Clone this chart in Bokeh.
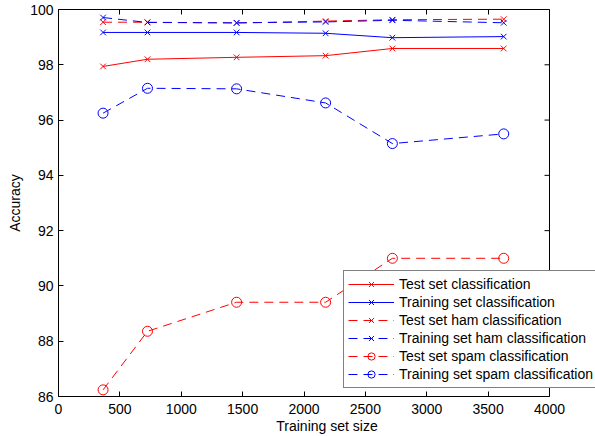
import numpy as np
from bokeh.plotting import figure
from bokeh.models import LinearAxis, FixedTicker, Legend, LegendItem, Span
from bokeh.embed import file_html
from bokeh.resources import INLINE

# ---- data ----
train_size = [363, 725, 1451, 2176, 2720, 3627]
test_cls = [97.94, 98.20, 98.27, 98.33, 98.59, 98.59]
train_cls = [99.17, 99.17, 99.17, 99.14, 98.98, 99.02]
test_ham = [99.54, 99.54, 99.51, 99.58, 99.63, 99.65]
train_ham = [99.71, 99.53, 99.52, 99.55, 99.61, 99.52]
test_spam = [86.24, 88.36, 89.41, 89.41, 91.00, 91.00]
train_spam = [96.25, 97.15, 97.13, 96.62, 95.15, 95.50]

x_ticks = [0, 500, 1000, 1500, 2000, 2500, 3000, 3500, 4000]
y_ticks = [86, 88, 90, 92, 94, 96, 98, 100]
X_MIN, X_MAX = 0, 4000
Y_MIN, Y_MAX = 86, 100

series = [
    ("Test set classification", test_cls, "#ff0000", "solid", "x"),
    ("Training set classification", train_cls, "#0000ff", "solid", "x"),
    ("Test set ham classification", test_ham, "#ff0000", "9 6", "x"),
    ("Training set ham classification", train_ham, "#0000ff", "9 6", "x"),
    ("Test set spam classification", test_spam, "#ff0000", "9 6", "circle"),
    ("Training set spam classification", train_spam, "#0000ff", "9 6", "circle"),
]

FONT = "Liberation Sans"
FS = "14px"

# layout: the frame runs past x=4000 so the legend may overhang the axes box,
# as in the reference; the box itself is drawn by bounded axes + a span.
W, H = 595, 436
LEFT = 58
AXES_PX = 491          # pixel width of the 0..4000 axes box
frame_w = W - LEFT
x_end = X_MAX * frame_w / AXES_PX

p = figure(width=W, height=H, x_range=(X_MIN, x_end), y_range=(Y_MIN, Y_MAX),
           output_backend="svg", toolbar_location=None,
           min_border_left=LEFT, min_border_right=0, min_border_top=9, min_border_bottom=0)

p.xgrid.visible = False
p.ygrid.visible = False
p.outline_line_color = None
p.background_fill_color = "white"
p.border_fill_color = "white"

def style(ax, ticks):
    ax.ticker = FixedTicker(ticks=ticks)
    ax.major_tick_in = 5
    ax.major_tick_out = 0
    ax.minor_tick_line_color = None
    ax.axis_line_color = "black"
    ax.major_tick_line_color = "black"
    ax.major_label_text_font = FONT
    ax.major_label_text_font_size = FS
    ax.major_label_text_color = "black"
    ax.axis_label_text_font = FONT
    ax.axis_label_text_font_size = FS
    ax.axis_label_text_font_style = "normal"
    ax.axis_label_text_color = "black"

style(p.xaxis[0], x_ticks)
style(p.yaxis[0], y_ticks)
p.xaxis.bounds = (X_MIN, X_MAX)
p.xaxis.axis_label = "Training set size"
p.yaxis.axis_label = "Accuracy"
p.xaxis.major_label_standoff = 7
p.xaxis.axis_label_standoff = 1
p.yaxis.major_label_standoff = 5
p.yaxis.axis_label_standoff = 4

top = LinearAxis()
style(top, x_ticks)
top.bounds = (X_MIN, X_MAX)
top.major_label_text_font_size = "0px"
top.major_label_standoff = 0
top.major_label_overrides = {t: "" for t in x_ticks}
p.add_layout(top, "above")

# right edge of the axes box with inward ticks
p.add_layout(Span(location=X_MAX, dimension="height", line_color="black", line_width=1))
p.ray(x=[X_MAX] * len(y_ticks), y=y_ticks, length=5, length_units="screen",
      angle=np.pi, line_color="black", line_width=1)

items = []
for label, ys, color, dash, marker in series:
    r_line = p.line(train_size, ys, line_color=color, line_width=1, line_dash=dash)
    if marker == "x":
        r_m = p.scatter(train_size, ys, marker="x", size=8, line_color=color, line_width=1)
    else:
        r_m = p.scatter(train_size, ys, marker="circle", size=10, line_color=color,
                        fill_color=None, line_width=1)
    items.append(LegendItem(label=label, renderers=[r_line, r_m]))

legend = Legend(items=items, location=(285, 8))
legend.label_text_font = FONT
legend.label_text_font_size = FS
legend.label_text_color = "black"
legend.glyph_width = 46
legend.glyph_height = 18
legend.label_height = 18
legend.spacing = 0
legend.padding = 4
legend.margin = 0
legend.label_standoff = 5
legend.border_line_color = "black"
legend.border_line_width = 1
legend.background_fill_color = "white"
legend.background_fill_alpha = 1
p.add_layout(legend, "center")

open("out.html", "w").write(file_html(p, INLINE))
